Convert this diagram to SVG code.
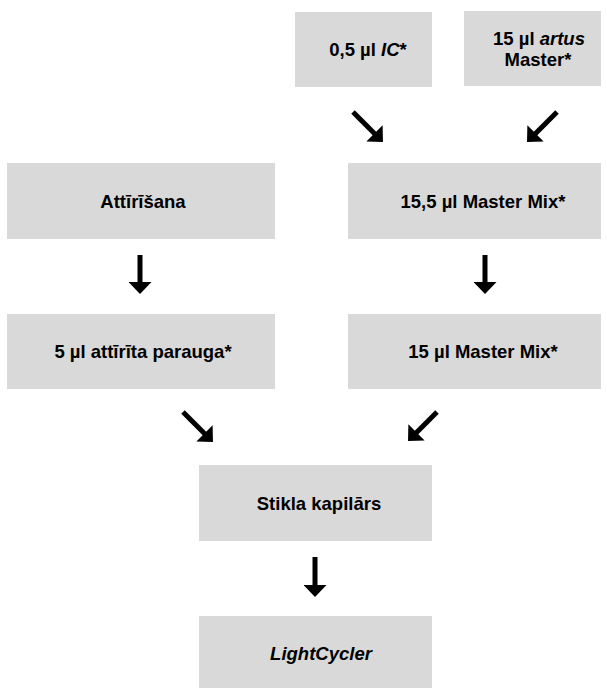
<svg xmlns="http://www.w3.org/2000/svg" width="607" height="688" viewBox="0 0 607 688">
<defs>
<style>
.box{fill:#d9d9d9}
.t{font-family:"Liberation Sans",Arial,sans-serif;font-weight:bold;font-size:18.5px;fill:#000;text-anchor:middle}
.i{font-style:italic}
.c{stroke:#000;stroke-width:5;fill:none;marker-end:url(#ah)}
</style>
<marker id="ah" viewBox="0 0 12 23" refX="1" refY="11.5" markerWidth="12" markerHeight="23" markerUnits="userSpaceOnUse" orient="auto">
<path d="M0,0 L12,11.5 L0,23 Z" fill="#000"/>
</marker>
</defs>
<rect width="607" height="688" fill="#fff"/>
<g id="n1"><rect class="box" x="295" y="12" width="137" height="75"/><text class="t" x="368" y="56">0,5 µl <tspan class="i">IC</tspan>*</text></g>
<g id="n2"><rect class="box" x="464" y="11" width="137" height="75"/><text class="t" x="539" y="45">15 µl <tspan class="i">artus</tspan></text><text class="t" x="538" y="66">Master*</text></g>
<g id="n3"><rect class="box" x="7" y="163" width="268" height="76"/><text class="t" x="143" y="208">Attīrīšana</text></g>
<g id="n4"><rect class="box" x="348" y="163" width="253" height="76"/><text class="t" x="483" y="208">15,5 µl Master Mix*</text></g>
<g id="n5"><rect class="box" x="7" y="314" width="268" height="75"/><text class="t" x="143" y="358">5 µl attīrīta parauga*</text></g>
<g id="n6"><rect class="box" x="348" y="314" width="253" height="75"/><text class="t" x="483" y="358">15 µl Master Mix*</text></g>
<g id="n7"><rect class="box" x="199" y="465" width="233" height="76"/><text class="t" x="319" y="510">Stikla kapilārs</text></g>
<g id="n8"><rect class="box" x="199" y="616" width="233" height="75"/><text class="t" x="321" y="660"><tspan class="i">LightCycler</tspan></text></g>
<g id="connectors">
<line class="c" x1="353" y1="112" x2="375.2" y2="134.2"/>
<line class="c" x1="557" y1="112" x2="534.8" y2="134.2"/>
<line class="c" x1="140" y1="255" x2="140" y2="283"/>
<line class="c" x1="485" y1="255" x2="485" y2="283"/>
<line class="c" x1="183" y1="412" x2="205.2" y2="434.2"/>
<line class="c" x1="437" y1="412" x2="415.8" y2="433.2"/>
<line class="c" x1="315" y1="557" x2="315" y2="586"/>
</g>
</svg>
